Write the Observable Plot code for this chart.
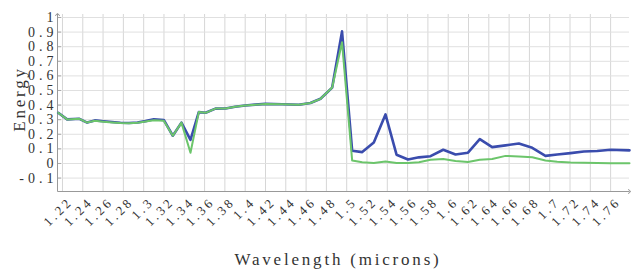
<!DOCTYPE html>
<html>
<head>
<meta charset="utf-8">
<script src="https://cdn.jsdelivr.net/npm/d3@7"></script>
<script src="https://cdn.jsdelivr.net/npm/@observablehq/plot@0.6"></script>
<style>
  html, body { margin: 0; padding: 0; background: #fff; }
  #chart svg { display: block; }
  #chart g[aria-label="y-axis tick label"] text { letter-spacing: 4px; }
  #chart g[aria-label="x-axis tick label"] text { letter-spacing: 3px; }
</style>
</head>
<body>
<div id="chart"></div>
<script>
// Wavelength (microns)
const wavelength = [
  1.2158, 1.2246, 1.2367, 1.2443, 1.2518, 1.2604, 1.2688, 1.2771, 1.2855, 1.2939,
  1.3018, 1.3100, 1.3198, 1.3287, 1.3372, 1.3461, 1.3543, 1.3610, 1.3707, 1.3806,
  1.3900, 1.4000, 1.4100, 1.4200, 1.4365, 1.4528, 1.4643, 1.4742, 1.4857, 1.4954,
  1.5054, 1.5153, 1.5267, 1.5382, 1.5491, 1.5604, 1.5712, 1.5826, 1.5951, 1.6072,
  1.6195, 1.6311, 1.6433, 1.6565, 1.6696, 1.6828, 1.6958, 1.7074, 1.7205, 1.7336,
  1.7468, 1.7599, 1.7786
];
// Energy, blue series
const energyBlue = [
  0.347, 0.302, 0.306, 0.280, 0.295, 0.289, 0.284, 0.279, 0.277, 0.281,
  0.290, 0.303, 0.298, 0.190, 0.280, 0.162, 0.352, 0.347, 0.376, 0.377,
  0.388, 0.397, 0.403, 0.408, 0.406, 0.402, 0.414, 0.443, 0.520, 0.905,
  0.087, 0.078, 0.144, 0.336, 0.060, 0.027, 0.042, 0.050, 0.094, 0.061,
  0.074, 0.167, 0.112, 0.124, 0.137, 0.107, 0.052, 0.062, 0.071, 0.082,
  0.085, 0.094, 0.090
];
// Energy, green series
const energyGreen = [
  0.347, 0.302, 0.306, 0.280, 0.292, 0.286, 0.281, 0.277, 0.275, 0.279,
  0.287, 0.296, 0.293, 0.190, 0.280, 0.073, 0.352, 0.347, 0.376, 0.377,
  0.388, 0.397, 0.403, 0.408, 0.406, 0.402, 0.414, 0.443, 0.520, 0.830,
  0.020, 0.009, 0.003, 0.014, 0.003, 0.003, 0.009, 0.025, 0.030, 0.017,
  0.010, 0.025, 0.030, 0.052, 0.048, 0.043, 0.020, 0.012, 0.007, 0.005,
  0.003, 0.002, 0.002
];
const xTicks = [1.22, 1.24, 1.26, 1.28, 1.30, 1.32, 1.34, 1.36, 1.38, 1.40, 1.42, 1.44, 1.46, 1.48,
                1.50, 1.52, 1.54, 1.56, 1.58, 1.60, 1.62, 1.64, 1.66, 1.68, 1.70, 1.72, 1.74, 1.76];
const yTicks = [-0.1, 0, 0.1, 0.2, 0.3, 0.4, 0.5, 0.6, 0.7, 0.8, 0.9, 1];
const xLabel = "Wavelength (microns)";
const yLabel = "Energy";

const xDomain = [1.2151, 1.7786];
const yDomain = [-0.192, 1.0205];

const blueData = wavelength.map((w, i) => ({w, e: energyBlue[i]}));
const greenData = wavelength.map((w, i) => ({w, e: energyGreen[i]}));
const fmt = d => String(+d.toFixed(2));

const chart = Plot.plot({
  width: 631,
  height: 269,
  marginLeft: 57,
  marginRight: 2,
  marginTop: 14,
  marginBottom: 78,
  x: {domain: xDomain},
  y: {domain: yDomain},
  style: {fontFamily: "'Liberation Serif', 'Times New Roman', serif", background: "#fff", color: "#333"},
  marks: [
    Plot.gridX(xTicks, {stroke: "#d6d6d6", strokeOpacity: 1}),
    Plot.gridY(yTicks, {stroke: "#e0e0e0", strokeOpacity: 1}),
    Plot.axisY(yTicks, {tickSize: 3, tickPadding: 1, dx: 4, fontSize: 14, tickFormat: fmt, stroke: "#aaa", label: null}),
    Plot.axisX(xTicks, {tickSize: 0, tickPadding: 8, dx: 8, tickRotate: -45, fontSize: 13, tickFormat: fmt, label: null}),
    Plot.link([{x1: xDomain[0], y1: yDomain[0], x2: xDomain[0], y2: yDomain[1]}],
      {x1: "x1", y1: "y1", x2: "x2", y2: "y2", stroke: "#999", strokeWidth: 1, markerEnd: "arrow"}),
    Plot.link([{x1: xDomain[0], y1: yDomain[0], x2: xDomain[1], y2: yDomain[0]}],
      {x1: "x1", y1: "y1", x2: "x2", y2: "y2", stroke: "#999", strokeWidth: 1, markerEnd: "arrow"}),
    Plot.line(blueData, {x: "w", y: "e", stroke: "#3a4cad", strokeWidth: 2.6}),
    Plot.line(greenData, {x: "w", y: "e", stroke: "#6cc56b", strokeWidth: 2})
  ]
});
document.getElementById("chart").appendChild(chart);

const svg = d3.select(chart);
svg.append("text")
  .attr("transform", "translate(24.5,99) rotate(-90)")
  .attr("text-anchor", "middle")
  .attr("font-size", 17)
  .attr("letter-spacing", "2.8px")
  .attr("fill", "#333")
  .text(yLabel);
svg.append("text")
  .attr("x", 338)
  .attr("y", 265)
  .attr("text-anchor", "middle")
  .attr("font-size", 17)
  .attr("letter-spacing", "2.8px")
  .attr("fill", "#333")
  .text(xLabel);
</script>
</body>
</html>
